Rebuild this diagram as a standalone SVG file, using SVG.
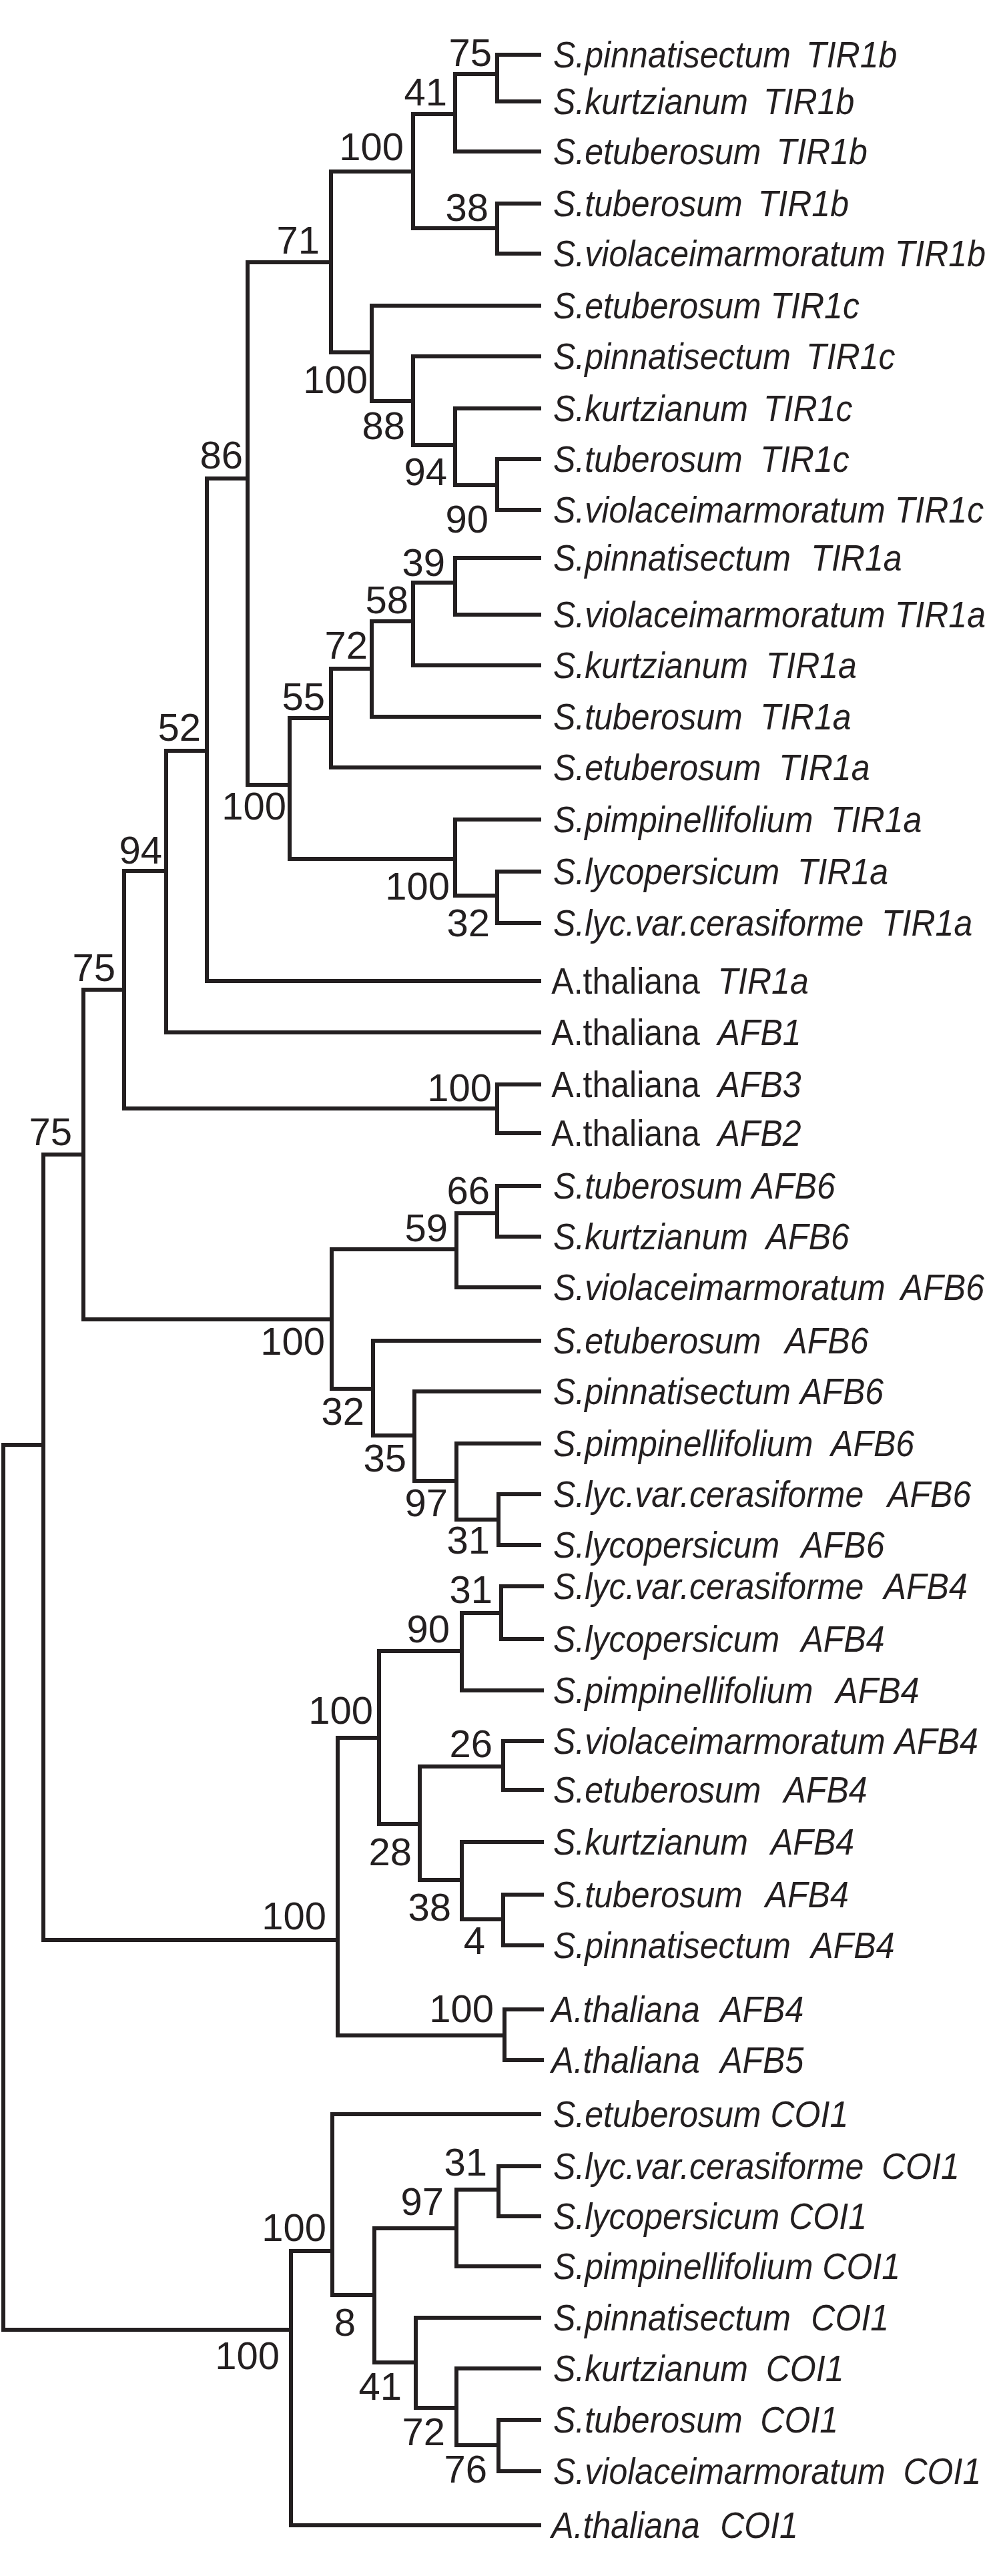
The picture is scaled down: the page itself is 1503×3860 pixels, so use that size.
<svg xmlns="http://www.w3.org/2000/svg" width="1503" height="3860" viewBox="0 0 1503 3860">
<style>
.e{fill:none;stroke:#231f20;stroke-width:6;stroke-linecap:square}
text{font-family:"Liberation Sans",Arial,sans-serif;fill:#231f20}
.l{font-size:55px;font-style:italic}
.n{font-size:58px;text-anchor:end}
.r{font-style:normal}
</style>
<rect width="1503" height="3860" fill="#fff"/>
<g id="connectors" class="e">
<path d="M745 82H808M745 152H808M682 227H808M745 305H808M745 380H808M557 458H808M619 534H808M682 612H808M745 688H808M745 764H808"/>
<path d="M682 836H808M682 921H808M619 997H808M557 1074H808M496 1150H808M682 1228H808M745 1306H808M745 1383H808M310 1470H808M249 1547H808M745 1625H808M745 1698H808"/>
<path d="M745 1777H808M745 1853H808M684 1929H808M559 2009H808M621 2085H808M684 2163H808M747 2239H808M747 2315H808"/>
<path d="M751 2377H812M751 2456H812M692 2533H812M754 2609H812M754 2682H812M692 2760H812M754 2839H812M754 2915H812M756 3011H812M756 3087H812"/>
<path d="M498 3168H808M747 3246H808M747 3321H808M684 3396H808M623 3473H808M684 3549H808M747 3626H808M747 3703H808M436 3784H808"/>
<path d="M745 82V152M682 111H745M682 111V227M619 171H682M745 305V380M619 342H745M619 171V342M496 257H619"/>
<path d="M745 688V764M682 727H745M682 612V727M619 667H682M619 534V667M557 601H619M557 458V601M496 528H557M496 257V528M371 393H496"/>
<path d="M682 836V921M619 873H682M619 873V997M557 931H619M557 931V1074M496 1002H557M496 1002V1150M434 1076H496"/>
<path d="M745 1306V1383M682 1342H745M682 1228V1342M434 1287H682M434 1076V1287M371 1176H434M371 393V1176M310 717H371"/>
<path d="M310 717V1470M249 1125H310M249 1125V1547M186 1305H249M745 1625V1698M186 1661H745M186 1305V1661M125 1483H186"/>
<path d="M745 1777V1853M684 1818H745M684 1818V1929M497 1872H684M747 2239V2315M684 2277H747M684 2163V2277M621 2219H684M621 2085V2219M559 2151H621M559 2009V2151M497 2081H559M497 1872V2081M125 1977H497M125 1483V1977M65 1730H125"/>
<path d="M751 2377V2456M692 2417H751M692 2417V2533M568 2474H692M754 2609V2682M629 2647H754M754 2839V2915M692 2876H754M692 2760V2876M629 2817H692M629 2647V2817M568 2733H629M568 2474V2733M506 2604H568M756 3011V3087M506 3050H756M506 2604V3050M65 2907H506M65 1730V2907M5 2165H65"/>
<path d="M747 3246V3321M684 3281H747M684 3281V3396M561 3339H684M747 3626V3703M684 3664H747M684 3549V3664M623 3608H684M623 3473V3608M561 3540H623M561 3339V3540M498 3439H561M498 3168V3439M436 3373H498M436 3373V3784M5 3491H436M5 2165V3491"/>
</g>
<g id="leaves" class="l" transform="matrix(0.91,0,0,1,74.6,0)">
<g id="t1"><text x="829" y="101">S.pinnatisectum <tspan dx="10">TIR1b</tspan></text></g>
<g id="t2"><text x="829" y="171">S.kurtzianum <tspan dx="10">TIR1b</tspan></text></g>
<g id="t3"><text x="829" y="246">S.etuberosum <tspan dx="10">TIR1b</tspan></text></g>
<g id="t4"><text x="829" y="324">S.tuberosum <tspan dx="10">TIR1b</tspan></text></g>
<g id="t5"><text x="829" y="399">S.violaceimarmoratum <tspan>TIR1b</tspan></text></g>
<g id="t6"><text x="829" y="477">S.etuberosum <tspan>TIR1c</tspan></text></g>
<g id="t7"><text x="829" y="553">S.pinnatisectum <tspan dx="10">TIR1c</tspan></text></g>
<g id="t8"><text x="829" y="631">S.kurtzianum <tspan dx="10">TIR1c</tspan></text></g>
<g id="t9"><text x="829" y="707">S.tuberosum <tspan dx="14">TIR1c</tspan></text></g>
<g id="t10"><text x="829" y="783">S.violaceimarmoratum <tspan>TIR1c</tspan></text></g>
<g id="t11"><text x="829" y="855">S.pinnatisectum <tspan dx="18">TIR1a</tspan></text></g>
<g id="t12"><text x="829" y="940">S.violaceimarmoratum <tspan>TIR1a</tspan></text></g>
<g id="t13"><text x="829" y="1016">S.kurtzianum <tspan dx="14">TIR1a</tspan></text></g>
<g id="t14"><text x="829" y="1093">S.tuberosum <tspan dx="14">TIR1a</tspan></text></g>
<g id="t15"><text x="829" y="1169">S.etuberosum <tspan dx="14">TIR1a</tspan></text></g>
<g id="t16"><text x="829" y="1247">S.pimpinellifolium <tspan dx="14">TIR1a</tspan></text></g>
<g id="t17"><text x="829" y="1325">S.lycopersicum <tspan dx="14">TIR1a</tspan></text></g>
<g id="t18"><text x="829" y="1402">S.lyc.var.cerasiforme <tspan dx="14">TIR1a</tspan></text></g>
<g id="t19"><text x="826" y="1489"><tspan class="r">A.thaliana</tspan> <tspan dx="14">TIR1a</tspan></text></g>
<g id="t20"><text x="826" y="1566"><tspan class="r">A.thaliana</tspan> <tspan dx="14">AFB1</tspan></text></g>
<g id="t21"><text x="826" y="1644"><tspan class="r">A.thaliana</tspan> <tspan dx="14">AFB3</tspan></text></g>
<g id="t22"><text x="826" y="1717"><tspan class="r">A.thaliana</tspan> <tspan dx="14">AFB2</tspan></text></g>
<g id="t23"><text x="829" y="1796">S.tuberosum <tspan>AFB6</tspan></text></g>
<g id="t24"><text x="829" y="1872">S.kurtzianum <tspan dx="14">AFB6</tspan></text></g>
<g id="t25"><text x="829" y="1948">S.violaceimarmoratum <tspan dx="10">AFB6</tspan></text></g>
<g id="t26"><text x="829" y="2028">S.etuberosum <tspan dx="24">AFB6</tspan></text></g>
<g id="t27"><text x="829" y="2104">S.pinnatisectum <tspan>AFB6</tspan></text></g>
<g id="t28"><text x="829" y="2182">S.pimpinellifolium <tspan dx="14">AFB6</tspan></text></g>
<g id="t29"><text x="829" y="2258">S.lyc.var.cerasiforme <tspan dx="24">AFB6</tspan></text></g>
<g id="t30"><text x="829" y="2334">S.lycopersicum <tspan dx="20">AFB6</tspan></text></g>
<g id="t31"><text x="829" y="2396">S.lyc.var.cerasiforme <tspan dx="18">AFB4</tspan></text></g>
<g id="t32"><text x="829" y="2475">S.lycopersicum <tspan dx="20">AFB4</tspan></text></g>
<g id="t33"><text x="829" y="2552">S.pimpinellifolium <tspan dx="22">AFB4</tspan></text></g>
<g id="t34"><text x="829" y="2628">S.violaceimarmoratum <tspan>AFB4</tspan></text></g>
<g id="t35"><text x="829" y="2701">S.etuberosum <tspan dx="22">AFB4</tspan></text></g>
<g id="t36"><text x="829" y="2779">S.kurtzianum <tspan dx="22">AFB4</tspan></text></g>
<g id="t37"><text x="829" y="2858">S.tuberosum <tspan dx="22">AFB4</tspan></text></g>
<g id="t38"><text x="829" y="2934">S.pinnatisectum <tspan dx="18">AFB4</tspan></text></g>
<g id="t39"><text x="826" y="3030">A.thaliana <tspan dx="18">AFB4</tspan></text></g>
<g id="t40"><text x="826" y="3106">A.thaliana <tspan dx="18">AFB5</tspan></text></g>
<g id="t41"><text x="829" y="3187">S.etuberosum <tspan>COI1</tspan></text></g>
<g id="t42"><text x="829" y="3265">S.lyc.var.cerasiforme <tspan dx="14">COI1</tspan></text></g>
<g id="t43"><text x="829" y="3340">S.lycopersicum <tspan>COI1</tspan></text></g>
<g id="t44"><text x="829" y="3415">S.pimpinellifolium <tspan>COI1</tspan></text></g>
<g id="t45"><text x="829" y="3492">S.pinnatisectum <tspan dx="18">COI1</tspan></text></g>
<g id="t46"><text x="829" y="3568">S.kurtzianum <tspan dx="14">COI1</tspan></text></g>
<g id="t47"><text x="829" y="3645">S.tuberosum <tspan dx="14">COI1</tspan></text></g>
<g id="t48"><text x="829" y="3722">S.violaceimarmoratum <tspan dx="14">COI1</tspan></text></g>
<g id="t49"><text x="826" y="3803">A.thaliana <tspan dx="18">COI1</tspan></text></g>
</g>
<g id="support" class="n">
<text x="737" y="99">75</text><text x="670" y="158">41</text><text x="605" y="240">100</text><text x="732" y="331">38</text>
<text x="479" y="380">71</text><text x="551" y="589">100</text><text x="607" y="658">88</text><text x="670" y="727">94</text><text x="732" y="798">90</text><text x="364" y="702">86</text>
<text x="667" y="863">39</text><text x="612" y="919">58</text><text x="551" y="987">72</text><text x="487" y="1064">55</text><text x="301" y="1110">52</text>
<text x="429" y="1228">100</text><text x="674" y="1348">100</text><text x="734" y="1403">32</text><text x="243" y="1294">94</text><text x="173" y="1470">75</text>
<text x="737" y="1650">100</text><text x="108" y="1716">75</text>
<text x="734" y="1804">66</text><text x="671" y="1860">59</text><text x="487" y="2030">100</text><text x="546" y="2135">32</text><text x="609" y="2205">35</text><text x="671" y="2272">97</text><text x="734" y="2328">31</text>
<text x="738" y="2402">31</text><text x="674" y="2461">90</text><text x="559" y="2583">100</text><text x="738" y="2633">26</text><text x="617" y="2795">28</text>
<text x="489" y="2891">100</text><text x="676" y="2878">38</text><text x="727" y="2928">4</text><text x="740" y="3030">100</text>
<text x="730" y="3260">31</text><text x="665" y="3319">97</text><text x="489" y="3358">100</text><text x="533" y="3500">8</text><text x="419" y="3550">100</text><text x="602" y="3596">41</text><text x="667" y="3664">72</text><text x="730" y="3720">76</text>
</g>
</svg>
